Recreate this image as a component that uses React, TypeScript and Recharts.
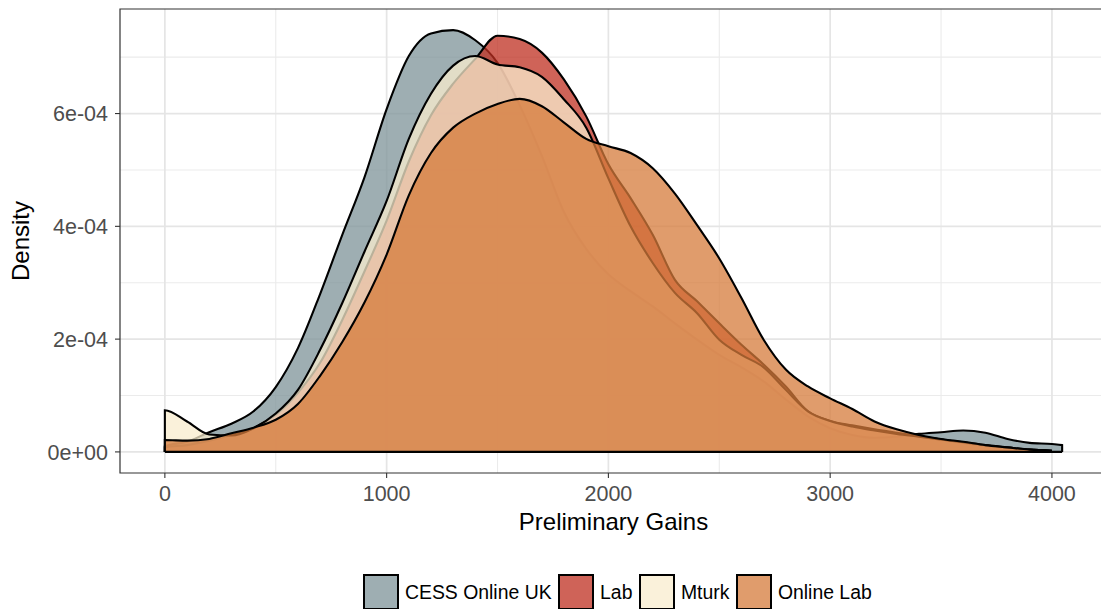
import React from 'react';
import { ComposedChart, Area, XAxis, YAxis, CartesianGrid, ReferenceLine, ReferenceArea } from 'recharts';

// Preliminary gains grid (x) and density per group, in units of 1e-04
const GAINS = [
  0, 100, 200, 300, 400, 500, 600, 700, 800, 900,
  1000, 1100, 1200, 1300, 1400, 1500, 1600, 1700, 1800, 1900,
  2000, 2100, 2200, 2300, 2400, 2500, 2600, 2700, 2800, 2900,
  3000, 3100, 3200, 3300, 3400, 3500, 3600, 3700, 3800, 3900, 4000,
];

const CESS = [
  0.1, 0.18, 0.35, 0.5, 0.72, 1.15, 1.84, 2.8, 3.85, 4.87,
  6.08, 7.02, 7.42, 7.48, 7.3, 6.9, 6.15, 5.25, 4.25, 3.6,
  3.15, 2.85, 2.58, 2.28, 1.99, 1.72, 1.5, 1.25, 0.93, 0.63,
  0.42, 0.3, 0.25, 0.27, 0.32, 0.35, 0.38, 0.34, 0.23, 0.16, 0.14,
];
const CESS_END = 4046;
const CESS_END_VALUE = 0.12;

const LAB = [
  0.08, 0.12, 0.2, 0.3, 0.42, 0.66, 1.05, 1.58, 2.34, 3.2,
  4.1, 5.15, 5.97, 6.53, 6.97, 7.38, 7.32, 7.08, 6.6, 5.95,
  5.1, 4.5, 3.85, 3.05, 2.67, 2.28, 1.9, 1.55, 1.16, 0.72,
  0.55, 0.47, 0.4, 0.34, 0.28, 0.22, 0.16, 0.11, 0.07, 0.04, 0.02,
];

const MTURK = [
  0.74, 0.54, 0.31, 0.29, 0.42, 0.68, 1.1, 1.81, 2.64, 3.55,
  4.45, 5.55, 6.35, 6.85, 7.02, 6.87, 6.82, 6.65, 6.25, 5.75,
  4.85, 4.0, 3.35, 2.82, 2.46, 1.99, 1.72, 1.5, 1.1, 0.72,
  0.55, 0.45, 0.38, 0.32, 0.27, 0.22, 0.17, 0.12, 0.08, 0.04, 0.02,
];

const ONLINE_LAB = [
  0.21, 0.2, 0.23, 0.33, 0.43, 0.57, 0.85, 1.35, 1.95, 2.65,
  3.5, 4.55, 5.3, 5.75, 6.0, 6.17, 6.26, 6.13, 5.84, 5.55,
  5.42, 5.3, 5.03, 4.58, 4.02, 3.43, 2.73, 1.99, 1.46, 1.16,
  0.95, 0.76, 0.54, 0.4, 0.3, 0.23, 0.18, 0.12, 0.08, 0.04, 0.02,
];

const X_TICKS = [0, 1000, 2000, 3000, 4000];
const X_MINOR = [500, 1500, 2500, 3500];
const Y_TICKS = [0, 2, 4, 6];
const Y_MINOR = [1, 3, 5, 7];

const SERIES = [
  { key: 'cess', name: 'CESS Online UK', color: '#7e9398', values: CESS },
  { key: 'lab', name: 'Lab', color: '#bf2f20', values: LAB },
  { key: 'mturk', name: 'Mturk', color: '#f8ecce', values: MTURK },
  { key: 'online', name: 'Online Lab', color: '#d67b3b', values: ONLINE_LAB },
];

const ALPHA = 0.75;
const FONT = '"Liberation Sans", Arial, Helvetica, sans-serif';

// table: a zero row first so each polygon gets its left edge, CESS closes at its own end
const zeroRow: any = { x: GAINS[0] };
SERIES.forEach((s) => { zeroRow[s.key] = 0; });
const rows: any[] = [zeroRow];
GAINS.forEach((g, i) => {
  const r: any = { x: g };
  SERIES.forEach((s) => { r[s.key] = s.values[i]; });
  rows.push(r);
});
rows.push({ x: CESS_END, cess: CESS_END_VALUE });
rows.push({ x: CESS_END, cess: 0 });

// ggplot style 5% expansion
const xMin = GAINS[0];
const xMax = CESS_END;
const xPad = (xMax - xMin) * 0.05;
const X_DOMAIN = [xMin - xPad, xMax + xPad];
const yMax = Math.max(...SERIES.flatMap((s) => s.values));
const Y_DOMAIN = [-yMax * 0.05, yMax * 1.05];

const fmtY = (v: number) => (v === 0 ? '0e+00' : `${v}e-04`);

const XTitle = (props: any) => {
  const vb = props.viewBox || { x: 120, y: 473, width: 987 };
  return (
    <text x={vb.x + vb.width / 2} y={vb.y + 57} textAnchor="middle" fontSize={24} fontFamily={FONT} fill="#000">
      Preliminary Gains
    </text>
  );
};

const YTitle = (props: any) => {
  const vb = props.viewBox || { x: 0, y: 9, height: 464 };
  const x = vb.x + 28.5;
  const y = vb.y + vb.height / 2;
  return (
    <text x={x} y={y} transform={`rotate(-90, ${x}, ${y})`} textAnchor="middle" fontSize={24} fontFamily={FONT} fill="#000">
      Density
    </text>
  );
};

const hexToRgba = (hex: string, a: number) => {
  const n = parseInt(hex.slice(1), 16);
  return `rgba(${(n >> 16) & 255}, ${(n >> 8) & 255}, ${n & 255}, ${a})`;
};

const LegendRow = () => (
  <div style={{ position: 'absolute', left: 363, top: 574, display: 'flex', alignItems: 'center', fontFamily: FONT, fontSize: 19.4, color: '#000', whiteSpace: 'nowrap' }}>
    {SERIES.map((s) => (
      <div key={s.key} style={{ display: 'flex', alignItems: 'center', marginRight: 6.5 }}>
        <div style={{ width: 36, height: 36, boxSizing: 'border-box', border: '2px solid #000', background: hexToRgba(s.color, ALPHA) }} />
        <span style={{ marginLeft: 6 }}>{s.name}</span>
      </div>
    ))}
  </div>
);

const tickStyle = { fontSize: 21.5, fill: '#4d4d4d', fontFamily: FONT };

export default function App() {
  return (
    <div style={{ position: 'absolute', left: 0, top: 0, width: 1101, height: 609, overflow: 'hidden', background: '#fff' }}>
      <ComposedChart width={1107} height={609} data={rows} margin={{ top: 9, right: 0, bottom: 0, left: 0 }}>
        <CartesianGrid stroke="#ebebeb" strokeWidth={1.1} verticalValues={X_MINOR} horizontalValues={Y_MINOR} />
        <CartesianGrid stroke="#e5e5e5" strokeWidth={1.7} verticalValues={X_TICKS} horizontalValues={Y_TICKS} />
        <XAxis
          type="number"
          dataKey="x"
          domain={X_DOMAIN}
          ticks={X_TICKS}
          allowDataOverflow
          height={136}
          axisLine={false}
          tickSize={5}
          tickMargin={8}
          tickLine={{ stroke: '#333', strokeWidth: 1.1 }}
          tick={tickStyle}
          interval={0}
          label={<XTitle />}
        />
        <YAxis
          type="number"
          domain={Y_DOMAIN}
          ticks={Y_TICKS}
          allowDataOverflow
          width={120}
          axisLine={false}
          tickSize={5}
          tickMargin={7}
          tickLine={{ stroke: '#333', strokeWidth: 1.1 }}
          tick={tickStyle}
          tickFormatter={fmtY}
          interval={0}
          label={<YTitle />}
        />
        {SERIES.map((s) => (
          <Area
            key={s.key}
            dataKey={s.key}
            name={s.name}
            type="monotone"
            baseValue={0}
            fill={s.color}
            fillOpacity={ALPHA}
            stroke="#000"
            strokeWidth={2.1}
            dot={false}
            activeDot={false}
            isAnimationActive={false}
          />
        ))}
        <ReferenceLine segment={[{ x: xMin, y: 0 }, { x: xMax, y: 0 }]} stroke="#000" strokeWidth={2.1} />
        <ReferenceArea x1={X_DOMAIN[0]} x2={X_DOMAIN[1]} y1={Y_DOMAIN[0]} y2={Y_DOMAIN[1]} fill="none" fillOpacity={0} stroke="#333" strokeWidth={1.2} />
      </ComposedChart>
      <LegendRow />
    </div>
  );
}
